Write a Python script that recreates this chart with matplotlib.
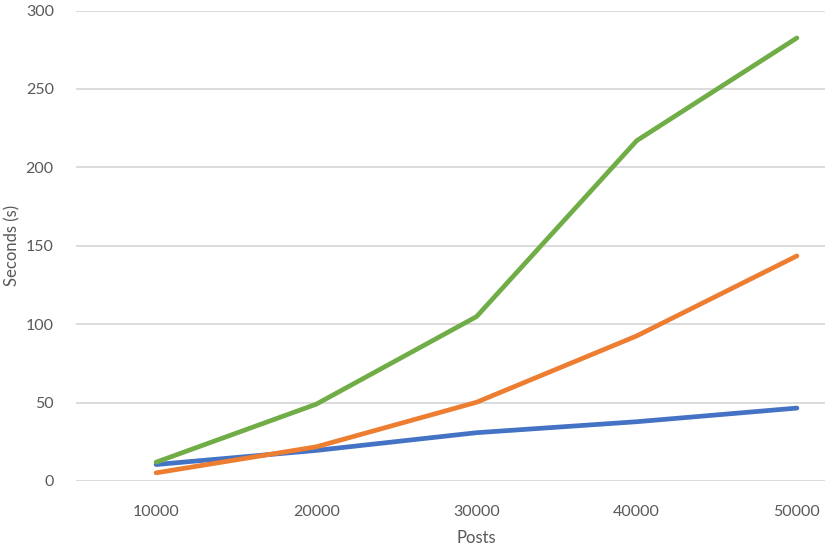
"""
Seconds taken vs number of posts, three series (line chart, Excel style).
Output: out.png (825x550)
"""

import matplotlib.pyplot as plt
import matplotlib as mpl

# data
posts = ["10000", "20000", "30000", "40000", "50000"]
series_blue = [10.5, 19.5, 30.8, 37.8, 46.5]
series_orange = [5.2, 21.8, 50.2, 92.5, 143.5]
series_green = [12.0, 49.0, 104.8, 217.0, 282.5]

y_ticks = [0, 50, 100, 150, 200, 250, 300]

BLUE = "#4472C4"
ORANGE = "#ED7D31"
GREEN = "#70AD47"
TEXT = "#595959"
GRID = "#D9D9D9"


def main() -> None:
    mpl.rcParams["font.family"] = ["Lato", "DejaVu Sans"]

    W, H = 825, 550
    fig = plt.figure(figsize=(W / 100, H / 100), dpi=100)
    # plot area runs past the right edge of the picture (the reference is cropped)
    left, right = 76, 877
    bottom, top = 481, 10.5
    ax = fig.add_axes([left / W, (H - bottom) / H, (right - left) / W, (bottom - top) / H])

    x = list(range(len(posts)))
    for vals, col in [(series_blue, BLUE), (series_orange, ORANGE), (series_green, GREEN)]:
        ax.plot(x, vals, color=col, linewidth=3.4, solid_capstyle="round",
                solid_joinstyle="round", clip_on=False)

    ax.set_xlim(-0.5, len(posts) - 0.5)
    ax.set_ylim(0, 300)
    ax.set_xticks(x)
    ax.set_xticklabels(posts)
    ax.set_yticks(y_ticks)
    ax.yaxis.grid(True, color=GRID, linewidth=1.3)
    ax.set_axisbelow(True)
    for s in ax.spines.values():
        s.set_visible(False)
    ax.tick_params(length=0, colors=TEXT, labelsize=11.5)
    ax.tick_params(axis="x", pad=17)
    ax.tick_params(axis="y", pad=16)

    fig.text((left + 801 / 2) / W, 1 - 538 / H, "Posts", ha="center", va="center",
             color=TEXT, fontsize=12)
    fig.text(12 / W, 1 - 245 / H, "Seconds (s)", ha="center", va="center",
             rotation=90, color=TEXT, fontsize=12)

    fig.savefig("out.png", dpi=100)
    plt.close(fig)


if __name__ == "__main__":
    main()
